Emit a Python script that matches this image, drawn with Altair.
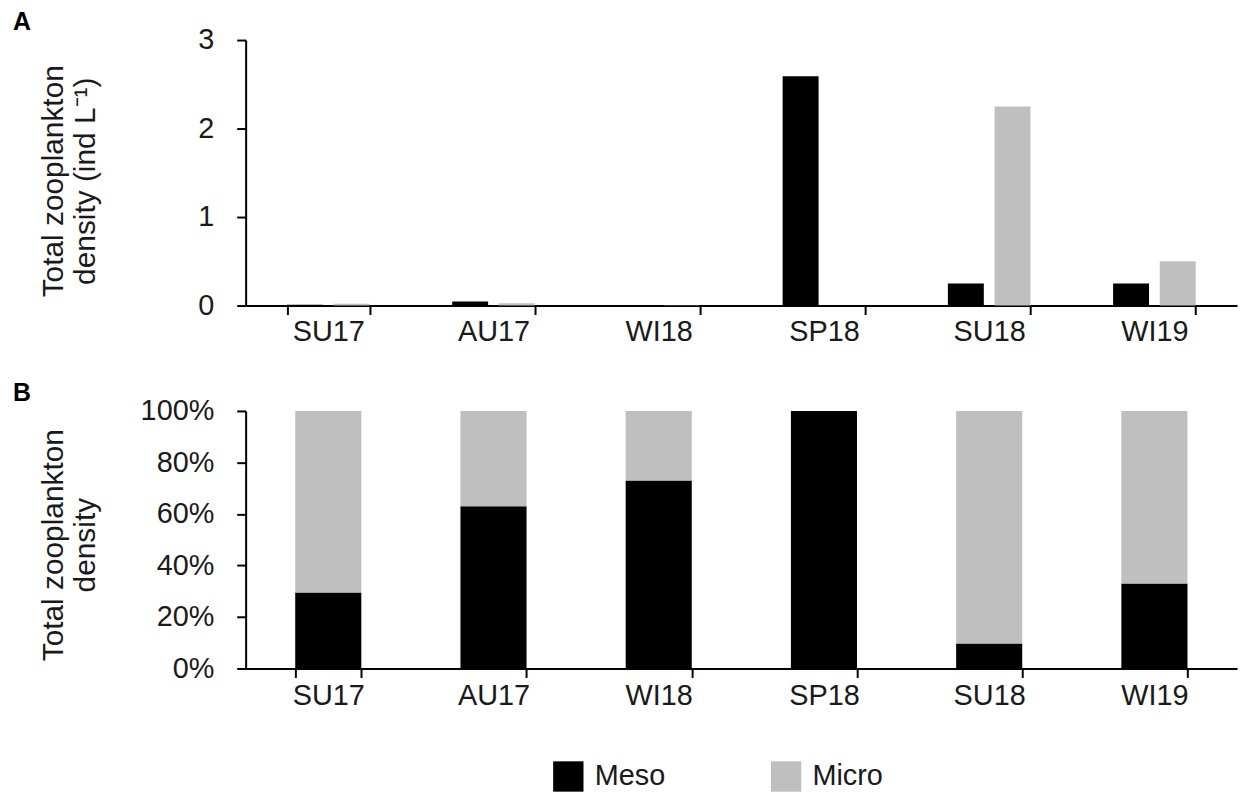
import altair as alt
import pandas as pd

seasons = ["SU17", "AU17", "WI18", "SP18", "SU18", "WI19"]
types = ["Meso", "Micro"]
meso_density = [0.008, 0.045, 0.005, 2.59, 0.25, 0.25]
micro_density = [0.02, 0.025, 0.002, 0.0, 2.25, 0.50]
meso_pct = [0.295, 0.63, 0.73, 1.0, 0.097, 0.33]
micro_pct = [0.705, 0.37, 0.27, 0.0, 0.903, 0.67]
colors = ["#000000", "#BFBFBF"]

FONT = "Liberation Sans"
FS = 29
TFS = 30
TXT = "#1a1a1a"

rows_a = []
rows_b = []
for i, s in enumerate(seasons):
    rows_a.append({"season": s, "type": "Meso", "value": meso_density[i]})
    rows_a.append({"season": s, "type": "Micro", "value": micro_density[i]})
    rows_b.append({"season": s, "type": "Meso", "value": meso_pct[i], "ord": 0})
    rows_b.append({"season": s, "type": "Micro", "value": micro_pct[i], "ord": 1})
df_a = pd.DataFrame(rows_a)
df_b = pd.DataFrame(rows_b)

color = alt.Color("type:N", scale=alt.Scale(domain=types, range=colors),
                  legend=alt.Legend(title=None, orient="none", direction="horizontal",
                                    legendX=309, legendY=725,
                                    symbolType="square", symbolSize=930, symbolStrokeWidth=0,
                                    labelFontSize=FS, labelFont=FONT, labelColor=TXT,
                                    labelOffset=11, columnPadding=106))

W = 997
HA = 267
HB = 259

def xaxis(pad):
    return alt.Axis(title=None, tickBand="extent", labelFontSize=FS, labelFont=FONT,
                    labelColor=TXT, labelPadding=pad, tickSize=9, labelAngle=0)

def panel_title(letter):
    return alt.TitleParams(letter, anchor="start", frame="group", dx=-234, offset=0, dy=9,
                           fontSize=25, font=FONT, fontWeight="bold", color="#000")

chart_a = alt.Chart(df_a).mark_bar().encode(
    x=alt.X("season:N", sort=seasons, axis=xaxis(3),
            scale=alt.Scale(paddingInner=0.5, paddingOuter=0.25)),
    xOffset=alt.XOffset("type:N", sort=types, scale=alt.Scale(paddingInner=0.23)),
    y=alt.Y("value:Q", scale=alt.Scale(domain=[0, 3]),
            axis=alt.Axis(values=[0, 1, 2, 3], format="d",
                          title=["Total zooplankton", "density (ind L⁻¹)"],
                          titleX=-178, titleY=HA / 2 + 8)),
    color=color,
).properties(width=W, height=HA, title=panel_title("A"))

chart_b = alt.Chart(df_b).mark_bar().encode(
    x=alt.X("season:N", sort=seasons, axis=xaxis(4),
            scale=alt.Scale(paddingInner=0.6, paddingOuter=0.3)),
    y=alt.Y("value:Q", stack="zero", scale=alt.Scale(domain=[0, 1]),
            axis=alt.Axis(values=[0, 0.2, 0.4, 0.6, 0.8, 1.0], format=".0%",
                          title=["Total zooplankton", "density"],
                          titleX=-178, titleY=HB / 2 + 5)),
    color=color,
    order=alt.Order("ord:Q", sort="ascending"),
).properties(width=W, height=HB, title=panel_title("B"))

chart = alt.vconcat(chart_a, chart_b, spacing=35).properties(
    padding={"left": 5, "right": 5, "top": 0, "bottom": 0}
).configure_view(
    stroke=None
).configure_axis(
    grid=False, domainColor="#000", domainWidth=2, tickColor="#000", tickWidth=2,
    titleFont=FONT, titleFontSize=TFS, titleFontWeight="normal", titleColor=TXT,
    labelFont=FONT, labelFontSize=FS, labelColor=TXT, titleLineHeight=32
).configure_axisY(labelPadding=23, tickSize=9)

chart.save("out.html", embed_options={"renderer": "svg", "actions": False})
